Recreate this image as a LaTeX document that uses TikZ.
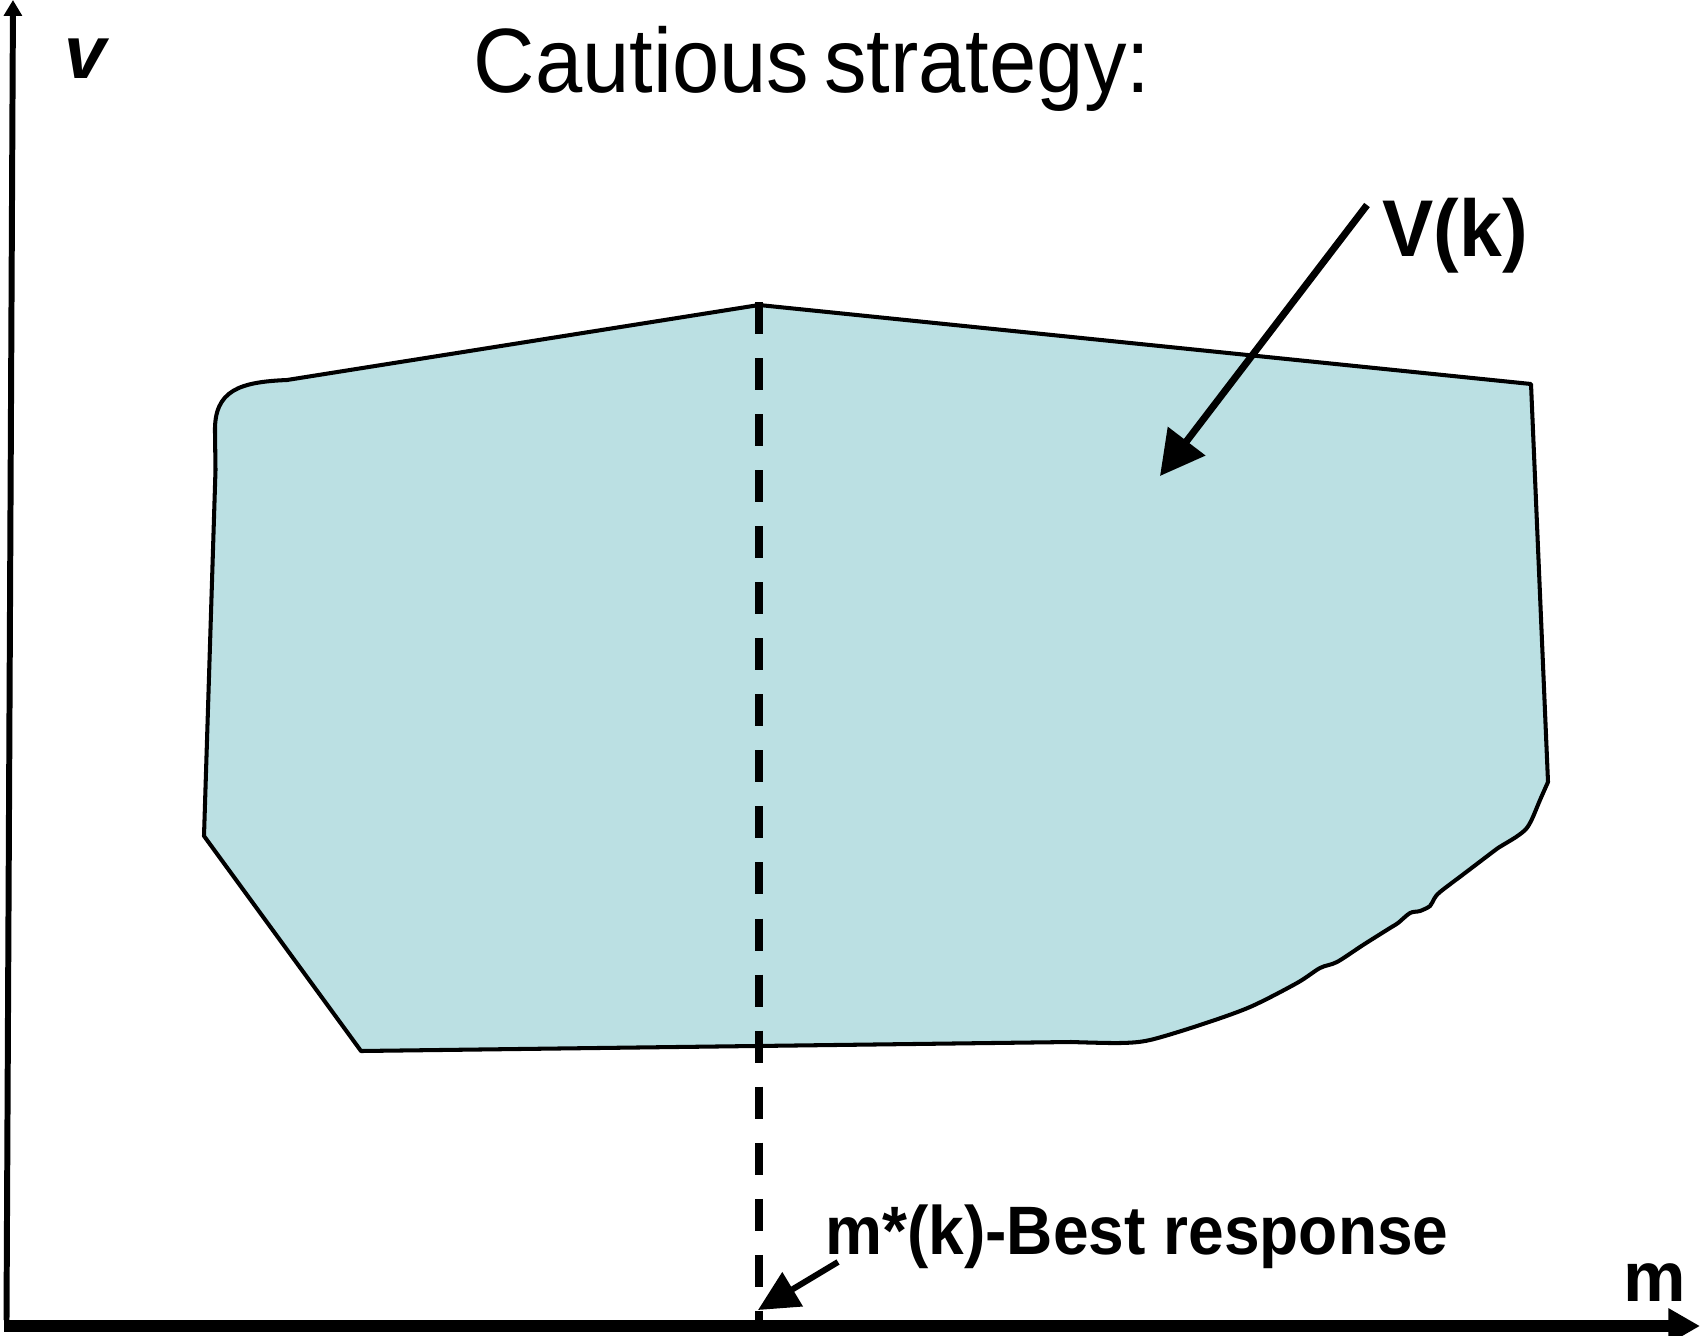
\documentclass[tikz,border=0pt]{standalone}
\usepackage{graphicx}
\usepackage{fontspec}
\setmainfont{Liberation Sans}
\usetikzlibrary{arrows.meta}
\definecolor{regionfill}{HTML}{BBE0E3}
\begin{document}
\begin{tikzpicture}[x=0.02cm,y=-0.02cm,
  region/.style={draw=black, fill=regionfill, line width=2.3pt, line join=round},
  guide/.style={draw=black, line width=4.6pt, dash pattern=on 18.2pt off 13.7pt},
  pointer/.style={draw=black, line width=4pt, -{Triangle[length=25pt,width=26pt]}},
  smallpointer/.style={draw=black, line width=3.4pt, -{Triangle[length=23pt,width=22pt]}},
  yaxis/.style={draw=black, line width=3.4pt, -{Triangle[length=9pt,width=10pt]}},
  xaxis/.style={draw=black, line width=6.3pt, -{Triangle[length=18pt,width=19pt]}},
  lbl/.style={inner sep=0pt, anchor=base, text=black}]
\useasboundingbox (0,0) rectangle (1700,1335);

% feasible region V(k)
\path[region] (287,380) -- (759,305) -- (1531,384) -- (1548,782)
  -- plot[smooth,tension=0.5] coordinates {(1548,782) (1540,800) (1532,819) (1526,829) (1516,837) (1498,848) (1490,854) (1465,873) (1440,892) (1434,899) (1430,906) (1420,911) (1410,913) (1398,923) (1390,928) (1363,945) (1337,962) (1320,968) (1297,983) (1250,1007) (1200,1025) (1150,1040) (1120,1043) (1071,1042)}
  -- (361,1051) -- (204,836) -- (215.5,470) -- (215,432)
  .. controls (214,390) and (240,382) .. (287,380) -- cycle;

% best-response guide line
\coordinate (peak) at (759,302);
\coordinate (foot) at (759,1320);
\draw[guide] (peak) -- (foot);

% axes
\coordinate (yorigin) at (6.5,1320);
\coordinate (ytop) at (13,0);
\coordinate (xorigin) at (4,1326);
\coordinate (xend) at (1700,1326);
\draw[yaxis] (yorigin) -- (ytop);
\draw[xaxis] (xorigin) -- (xend);

% labels
\node[lbl, font=\fontsize{52}{60}\selectfont] (title) at (812,92) {\scalebox{0.93}[1]{Cautious\hspace{-5pt} strategy:}};
\node[lbl, font=\bfseries\itshape\fontsize{42.7}{50}\selectfont] (vlabel) at (85,79) {v};
\node[lbl, font=\bfseries\fontsize{45.8}{54}\selectfont] (vklabel) at (1455,256) {\scalebox{0.955}[1]{V(k)}};
\node[lbl, font=\bfseries\fontsize{39}{46}\selectfont] (brlabel) at (1137,1254) {\scalebox{0.935}[1]{m*(k)-Best response}};
\node[lbl, font=\bfseries\fontsize{40}{48}\selectfont] (mlabel) at (1655,1301) {m};

% pointers
\coordinate (vkstart) at (1367,205);
\coordinate (vktip) at (1160,476);
\draw[pointer] (vkstart) -- (vktip);
\coordinate (brstart) at (838,1262);
\coordinate (brtip) at (758,1310);
\draw[smallpointer] (brstart) -- (brtip);
\end{tikzpicture}
\end{document}
